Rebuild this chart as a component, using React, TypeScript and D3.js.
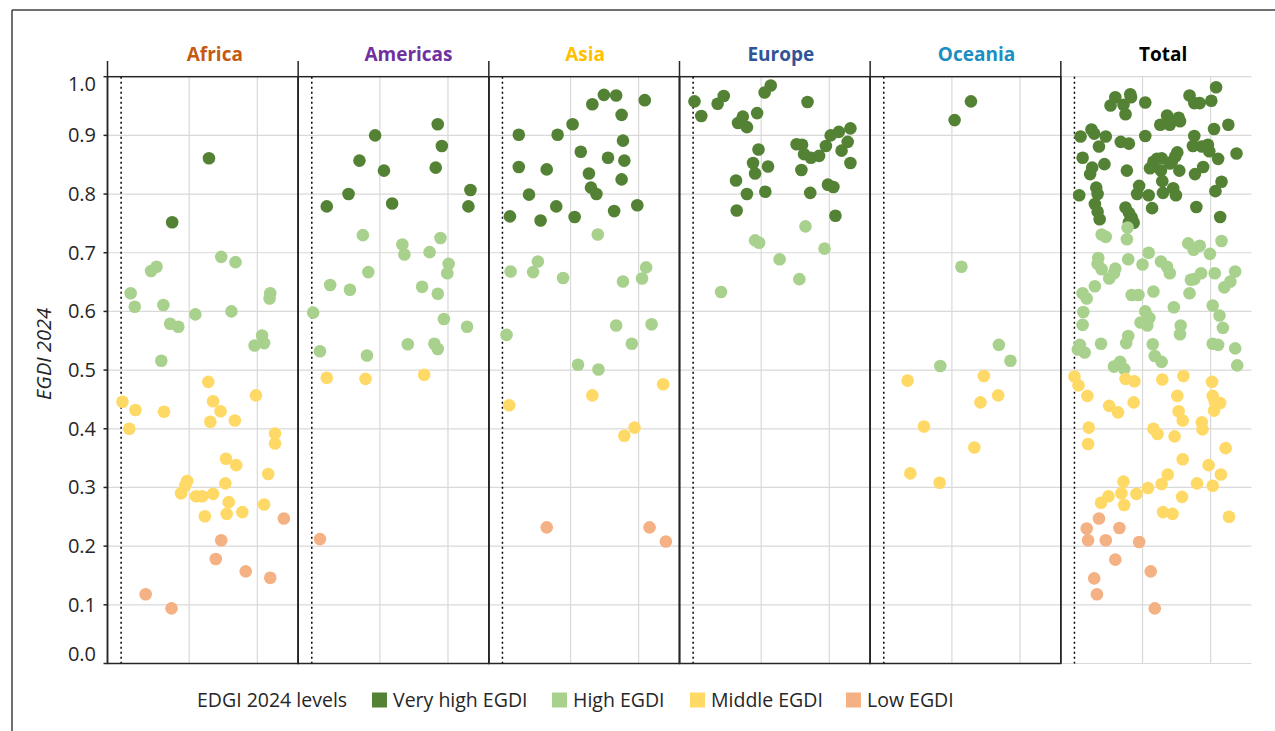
import * as d3 from 'd3'

// EGDI 2024 by region, each point is [jitter x, EGDI value]
const REGIONS = ['Africa', 'Americas', 'Asia', 'Europe', 'Oceania', 'Total']
const REGION_COLORS = ['#C55A11', '#7030A0', '#FFC000', '#2F5597', '#1B8EC2', '#000000']
const LEVELS = ['Very high EGDI', 'High EGDI', 'Middle EGDI', 'Low EGDI']
const LEVEL_COLORS = ['#548235', '#A9D18E', '#FFD966', '#F4B183']
const LEGEND_TITLE = 'EDGI 2024 levels'
const Y_TITLE = 'EGDI 2024'
const Y_TICKS = d3.range(0, 11).map(i => i / 10)
const X_GRID = [1, 2]

const africa: [number, number][] = [
  [1.29, 0.861], [0.75, 0.752],
  [1.47, 0.693], [1.68, 0.684], [0.44, 0.669], [0.52, 0.676], [0.14, 0.631], [0.20, 0.608],
  [0.62, 0.611], [1.09, 0.595], [1.62, 0.600], [2.19, 0.631], [2.18, 0.622], [0.72, 0.579],
  [0.84, 0.574], [2.07, 0.559], [2.10, 0.546], [1.96, 0.542], [0.59, 0.516],
  [0.02, 0.446], [0.21, 0.432], [0.12, 0.400], [0.63, 0.429], [1.28, 0.480], [1.35, 0.447],
  [1.46, 0.430], [1.31, 0.412], [1.67, 0.414], [1.98, 0.457], [2.26, 0.392], [2.26, 0.375],
  [1.54, 0.349], [1.69, 0.338], [2.16, 0.323], [0.97, 0.311], [0.94, 0.303], [0.88, 0.290],
  [1.10, 0.285], [1.19, 0.285], [1.35, 0.289], [1.53, 0.307], [1.58, 0.275], [2.10, 0.271],
  [1.23, 0.251], [1.55, 0.255], [1.78, 0.258],
  [2.39, 0.247], [1.47, 0.210], [1.39, 0.178], [1.83, 0.157], [2.19, 0.146], [0.36, 0.118],
  [0.74, 0.094],
]

const americas: [number, number][] = [
  [1.85, 0.919], [0.93, 0.900], [1.91, 0.882], [0.70, 0.857], [1.06, 0.840], [1.82, 0.845],
  [2.33, 0.807], [2.30, 0.779], [0.54, 0.800], [0.22, 0.779], [1.18, 0.784],
  [0.75, 0.730], [1.33, 0.714], [1.36, 0.697], [1.89, 0.725], [1.73, 0.701], [2.01, 0.681],
  [1.99, 0.665], [0.83, 0.667], [0.27, 0.645], [0.56, 0.637], [1.62, 0.642], [1.85, 0.630],
  [0.02, 0.598], [1.94, 0.587], [2.28, 0.574], [0.12, 0.532], [0.81, 0.525], [1.41, 0.544],
  [1.80, 0.545], [1.85, 0.536],
  [0.22, 0.487], [0.79, 0.485], [1.65, 0.492],
  [0.12, 0.212],
]

const asia: [number, number][] = [
  [1.49, 0.969], [1.67, 0.968], [1.32, 0.953], [2.09, 0.960], [1.75, 0.935], [1.03, 0.919],
  [0.24, 0.901], [0.81, 0.901], [1.77, 0.891], [1.15, 0.872], [1.55, 0.862], [1.79, 0.857],
  [0.24, 0.846], [0.65, 0.842], [1.27, 0.835], [1.75, 0.825], [1.30, 0.811], [1.38, 0.800],
  [0.39, 0.799], [0.79, 0.779], [1.98, 0.781], [0.11, 0.762], [0.56, 0.755], [1.06, 0.761],
  [1.64, 0.771],
  [1.40, 0.731], [0.52, 0.685], [0.12, 0.668], [0.45, 0.667], [0.89, 0.657], [1.77, 0.651],
  [2.11, 0.675], [2.05, 0.656], [0.06, 0.560], [1.67, 0.576], [2.19, 0.578], [1.90, 0.545],
  [1.11, 0.509], [1.41, 0.501],
  [0.10, 0.440], [1.32, 0.457], [2.36, 0.476], [1.94, 0.402], [1.79, 0.388],
  [0.65, 0.232], [2.16, 0.232], [2.40, 0.208],
]

const europe: [number, number][] = [
  [0.02, 0.958], [0.12, 0.933], [0.36, 0.954], [0.45, 0.967], [1.05, 0.973], [1.14, 0.985],
  [1.68, 0.957], [0.94, 0.938], [0.73, 0.932], [0.66, 0.921], [0.79, 0.914], [2.31, 0.912],
  [2.14, 0.906], [2.02, 0.900], [2.27, 0.889], [1.95, 0.882], [2.18, 0.874], [0.96, 0.876],
  [1.52, 0.885], [1.60, 0.884], [1.63, 0.868], [1.73, 0.862], [1.85, 0.865], [2.31, 0.853],
  [0.88, 0.853], [1.10, 0.847], [0.91, 0.835], [1.59, 0.841], [0.63, 0.823], [1.98, 0.816],
  [2.06, 0.812], [0.79, 0.800], [1.06, 0.804], [1.72, 0.802], [0.64, 0.772], [2.09, 0.763],
  [1.65, 0.745], [0.91, 0.721], [0.97, 0.717], [1.93, 0.707], [1.27, 0.689], [1.56, 0.655],
  [0.41, 0.633],
]

const oceania: [number, number][] = [
  [1.28, 0.958], [1.04, 0.926],
  [1.14, 0.676], [1.69, 0.543], [1.86, 0.516], [0.83, 0.507],
  [0.35, 0.482], [1.47, 0.490], [1.68, 0.457], [1.42, 0.445], [0.59, 0.404], [1.33, 0.368],
  [0.39, 0.324], [0.82, 0.308],
]

// Total panel: all countries, re-jittered
const total: [number, number][] = [
  [2.08, 0.982], [1.69, 0.968], [1.76, 0.955], [1.84, 0.955], [2.01, 0.959], [0.82, 0.970],
  [0.83, 0.965], [0.60, 0.965], [0.53, 0.951], [0.72, 0.952], [0.75, 0.936], [1.04, 0.956],
  [1.36, 0.934], [1.26, 0.918], [1.40, 0.918], [1.53, 0.930], [1.55, 0.924], [1.38, 0.926],
  [0.09, 0.898], [0.25, 0.910], [0.29, 0.903], [0.46, 0.898], [0.36, 0.881], [0.68, 0.889],
  [0.80, 0.886], [1.04, 0.899], [2.05, 0.911], [2.26, 0.918], [1.76, 0.899], [1.74, 0.882],
  [1.87, 0.881], [1.96, 0.884], [1.98, 0.873], [2.38, 0.869], [0.12, 0.862], [0.26, 0.845],
  [0.23, 0.834], [0.44, 0.851], [0.77, 0.840], [1.51, 0.871], [1.48, 0.864], [1.21, 0.860],
  [1.28, 0.861], [1.16, 0.855], [1.11, 0.844], [1.40, 0.852], [1.27, 0.840], [1.54, 0.840],
  [1.29, 0.822], [1.89, 0.846], [1.77, 0.834], [2.11, 0.860], [2.16, 0.821], [0.07, 0.798],
  [0.32, 0.811], [0.34, 0.800], [0.30, 0.783], [0.34, 0.770], [0.37, 0.757], [0.75, 0.777],
  [0.80, 0.768], [0.84, 0.760], [0.87, 0.751], [0.80, 0.752], [0.95, 0.814], [0.92, 0.800],
  [1.09, 0.798], [1.30, 0.802], [1.45, 0.810], [1.49, 0.798], [1.14, 0.776], [2.07, 0.805],
  [1.79, 0.778], [2.14, 0.761], [0.84, 0.753], [1.43, 0.855],
  [0.40, 0.731], [0.46, 0.727], [0.77, 0.723], [0.78, 0.743], [1.67, 0.716], [1.75, 0.705],
  [1.84, 0.712], [2.16, 0.720], [0.35, 0.691], [0.34, 0.681], [0.40, 0.672], [0.60, 0.673],
  [0.58, 0.665], [0.51, 0.656], [0.79, 0.689], [1.00, 0.680], [1.09, 0.700], [1.27, 0.685],
  [1.36, 0.676], [1.40, 0.665], [1.99, 0.698], [2.06, 0.665], [1.86, 0.665], [1.76, 0.655],
  [1.71, 0.654], [2.36, 0.668], [2.29, 0.651], [2.20, 0.641], [0.30, 0.643], [0.12, 0.631],
  [0.18, 0.622], [0.84, 0.628], [0.94, 0.628], [1.16, 0.634], [1.69, 0.631], [0.13, 0.599],
  [0.12, 0.577], [1.46, 0.607], [2.03, 0.610], [2.13, 0.593], [2.18, 0.572], [1.04, 0.600],
  [1.10, 0.589], [0.97, 0.581], [1.07, 0.576], [1.56, 0.576], [1.55, 0.561], [0.79, 0.558],
  [0.76, 0.546], [0.39, 0.545], [0.08, 0.543], [1.15, 0.544], [2.03, 0.545], [2.11, 0.543],
  [2.36, 0.537], [0.15, 0.530], [1.18, 0.524], [1.28, 0.514], [2.39, 0.508], [0.58, 0.506],
  [0.67, 0.514], [0.73, 0.502], [0.05, 0.535],
  [0.00, 0.489], [0.06, 0.474], [0.19, 0.456], [0.21, 0.402], [0.20, 0.374], [0.51, 0.439],
  [0.64, 0.428], [0.75, 0.485], [0.88, 0.481], [0.87, 0.445], [1.29, 0.484], [1.60, 0.490],
  [1.51, 0.456], [1.53, 0.430], [1.59, 0.414], [1.16, 0.400], [1.22, 0.391], [1.47, 0.387],
  [1.87, 0.411], [1.88, 0.399], [2.02, 0.480], [2.03, 0.456], [2.06, 0.447], [2.14, 0.444],
  [2.05, 0.431], [2.22, 0.367], [1.59, 0.348], [1.97, 0.338], [2.15, 0.322], [1.37, 0.322],
  [1.28, 0.306], [1.80, 0.307], [2.03, 0.303], [1.08, 0.299], [0.72, 0.310], [0.69, 0.290],
  [0.91, 0.289], [0.50, 0.285], [0.39, 0.274], [0.73, 0.270], [1.58, 0.284], [1.30, 0.258],
  [1.44, 0.255], [2.27, 0.250],
  [0.36, 0.247], [0.18, 0.230], [0.20, 0.210], [0.46, 0.210], [0.66, 0.231], [0.95, 0.207],
  [0.60, 0.177], [1.12, 0.157], [0.29, 0.145], [0.33, 0.118], [1.18, 0.094],
]

const PANEL_DATA = [africa, americas, asia, europe, oceania, total]

const levelOf = (v: number) => (v >= 0.75 ? 0 : v >= 0.5 ? 1 : v >= 0.25 ? 2 : 3)

const W = 1275
const H = 731
const FONT = '"Open Sans", "Noto Sans", sans-serif'
const GRID = '#d9d9d9'
const AXIS = '#262626'

export default function App() {
  const yScale = d3.scaleLinear().domain([0, 1]).range([663.5, 76.7])
  const panelScale = d3.scaleLinear().domain([0, REGIONS.length]).range([107.5, 1251.5])
  const panelW = panelScale(1) - panelScale(0)
  const xScale = d3.scaleLinear().domain([-0.2, 2.6]).range([0, panelW])
  const top = yScale(1)
  const bottom = yScale(0)
  const sepTop = 61
  const labelY = (v: number) => Math.min(654, Math.max(84, yScale(v)))
  const totalX0 = panelScale(5)

  // title centres sit a little right of the panel centres in the original
  const titleShift = [12, 15, 1, 6, 11, 7]
  const legendX = [372, 552, 690, 846]

  return (
    <svg
      width={W}
      height={H}
      style={{ position: 'absolute', left: 0, top: 0, background: '#fff' }}
      fontFamily={FONT}
    >
      {/* outer frame */}
      <line x1={12} x2={W} y1={10} y2={10} stroke="#404040" strokeWidth={1.5} />
      <line x1={12} x2={12} y1={10} y2={H} stroke="#404040" strokeWidth={1.5} />

      {/* horizontal grid */}
      {Y_TICKS.filter(t => t > 0 && t < 1).map(t => (
        <line key={t} x1={panelScale(0)} x2={panelScale(6)} y1={yScale(t)} y2={yScale(t)} stroke={GRID} strokeWidth={1.2} />
      ))}
      {[0, 1].map(t => (
        <line key={'tg' + t} x1={totalX0} x2={panelScale(6)} y1={yScale(t)} y2={yScale(t)} stroke={GRID} strokeWidth={1.2} />
      ))}

      {REGIONS.map((region, i) => {
        const x0 = panelScale(i)
        const pts = PANEL_DATA[i]
        return (
          <g key={region} transform={`translate(${x0},0)`}>
            {X_GRID.map(g => (
              <line key={g} x1={xScale(g)} x2={xScale(g)} y1={top} y2={bottom} stroke={GRID} strokeWidth={1.2} />
            ))}
            <line x1={xScale(0)} x2={xScale(0)} y1={top} y2={bottom} stroke="#000" strokeWidth={1.5} strokeDasharray="2,3" />
            {i < 5 && (
              <rect x={0} y={top} width={panelW} height={bottom - top} fill="none" stroke={AXIS} strokeWidth={1.5} />
            )}
            {pts.map((p, k) => (
              <circle key={k} cx={xScale(p[0])} cy={yScale(p[1])} r={6.3} fill={LEVEL_COLORS[levelOf(p[1])]} />
            ))}
            <text x={panelW / 2 + titleShift[i]} y={61} textAnchor="middle" fontSize={19} fontWeight={700} fill={REGION_COLORS[i]}>
              {region}
            </text>
          </g>
        )
      })}

      {/* panel separators */}
      {d3.range(0, 6).map(i => (
        <line key={'s' + i} x1={panelScale(i)} x2={panelScale(i)} y1={sepTop} y2={bottom} stroke={AXIS} strokeWidth={1.5} />
      ))}

      {/* y axis */}
      {Y_TICKS.map(t => (
        <g key={'yt' + t}>
          <line x1={103.5} x2={panelScale(0)} y1={yScale(t)} y2={yScale(t)} stroke={AXIS} strokeWidth={1.5} />
          <text x={96} y={labelY(t)} dy="0.35em" textAnchor="end" fontSize={20} fill={AXIS}>
            {d3.format('.1f')(t)}
          </text>
        </g>
      ))}
      <text
        transform="translate(51,354) rotate(-90)"
        textAnchor="middle"
        fontSize={20}
        fontStyle="italic"
        fill={AXIS}
      >
        {Y_TITLE}
      </text>

      {/* legend */}
      <text x={197} y={700} dy="0.35em" fontSize={19.5} fill={AXIS}>
        {LEGEND_TITLE}
      </text>
      {LEVELS.map((lv, i) => (
        <g key={lv} transform={`translate(${legendX[i]},700)`}>
          <rect x={0} y={-7.5} width={15} height={15} fill={LEVEL_COLORS[i]} />
          <text x={21} y={0} dy="0.35em" fontSize={19.5} fill={AXIS}>
            {lv}
          </text>
        </g>
      ))}
    </svg>
  )
}
